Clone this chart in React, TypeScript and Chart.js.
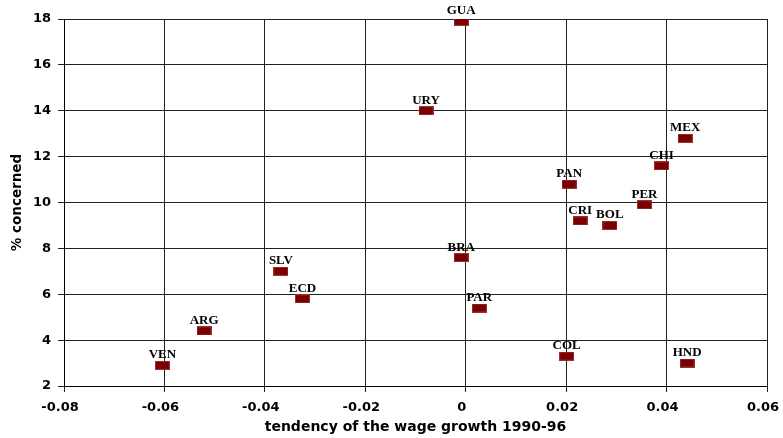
import React, { useEffect, useRef } from "react";
import { Chart, registerables } from "chart.js";

Chart.register(...registerables);

const countries = ["GUA", "URY", "MEX", "CHI", "PAN", "PER", "CRI", "BOL", "BRA", "PAR", "COL", "HND", "SLV", "ECD", "ARG", "VEN"];
const wageGrowth = [-0.0009, -0.0079, 0.0437, 0.039, 0.0206, 0.0356, 0.0228, 0.0287, -0.0009, 0.0027, 0.0201, 0.0441, -0.0368, -0.0325, -0.0521, -0.0604];
const concerned = [17.9, 14.0, 12.8, 11.6, 10.8, 9.9, 9.2, 9.0, 7.6, 5.4, 3.3, 3.0, 7.0, 5.8, 4.4, 2.9];

const xTicks = [-0.08, -0.06, -0.04, -0.02, 0, 0.02, 0.04, 0.06];
const yTicks = [2, 4, 6, 8, 10, 12, 14, 16, 18];

function makeMarker(): HTMLCanvasElement {
  const c = document.createElement("canvas");
  c.width = 15;
  c.height = 9;
  const ctx = c.getContext("2d")!;
  ctx.fillStyle = "#9a3030";
  ctx.fillRect(0, 0, 15, 9);
  ctx.fillStyle = "#7a0000";
  ctx.fillRect(1, 1, 13, 7);
  return c;
}

const labelPlugin = {
  id: "pointLabels",
  afterDatasetsDraw(chart: any) {
    const meta = chart.getDatasetMeta(0);
    const ctx = chart.ctx;
    ctx.save();
    ctx.font = "bold 13px 'Liberation Serif', 'Times New Roman', serif";
    ctx.fillStyle = "#000";
    ctx.textAlign = "center";
    ctx.textBaseline = "alphabetic";
    meta.data.forEach((pt: any, i: number) => {
      ctx.fillText(countries[i], pt.x, pt.y - 7);
    });
    ctx.restore();
  },
};

export default function App() {
  const ref = useRef<HTMLCanvasElement | null>(null);
  useEffect(() => {
    if (!ref.current) return;
    const marker = makeMarker();
    const chart = new Chart(ref.current, {
      type: "scatter",
      data: {
        datasets: [
          {
            data: wageGrowth.map((x, i) => ({ x, y: concerned[i] })),
            pointStyle: marker as any,
            pointRadius: 7,
            backgroundColor: "#7a0000",
            borderColor: "#7a0000",
          },
        ],
      },
      options: {
        animation: false,
        responsive: true,
        maintainAspectRatio: false,
        layout: { padding: { top: 19, right: 16, left: 0, bottom: 0 } },
        plugins: { legend: { display: false }, tooltip: { enabled: false } },
        scales: {
          x: {
            type: "linear",
            min: -0.08,
            max: 0.06,
            afterBuildTicks: (s: any) => {
              s.ticks = xTicks.map((v) => ({ value: v }));
            },
            afterFit: (s: any) => {
              s.height = 52;
              s.paddingLeft = 0;
              s.paddingRight = 0;
            },
            grid: { color: "#222", lineWidth: 1, tickLength: 6, tickColor: "#222" },
            border: { color: "#000", width: 1 },
            ticks: {
              color: "#000",
              padding: 8,
              labelOffset: -4,
              maxRotation: 0,
              font: { family: "'DejaVu Sans', sans-serif", size: 13, weight: "bold" },
              callback: (v: any) => String(Math.round(Number(v) * 100) / 100),
            },
            title: {
              display: true,
              text: "tendency of the wage growth 1990-96",
              color: "#000",
              font: { family: "'DejaVu Sans', sans-serif", size: 14, weight: "bold" },
              padding: { top: 0, bottom: 2 },
            },
          },
          y: {
            type: "linear",
            min: 2,
            max: 18,
            afterBuildTicks: (s: any) => {
              s.ticks = yTicks.map((v) => ({ value: v }));
            },
            afterFit: (s: any) => {
              s.width = 64;
              s.paddingTop = 0;
              s.paddingBottom = 0;
            },
            grid: { color: "#222", lineWidth: 1, tickLength: 6, tickColor: "#222" },
            border: { color: "#000", width: 1 },
            ticks: {
              color: "#000",
              padding: 7,
              font: { family: "'DejaVu Sans', sans-serif", size: 13, weight: "bold" },
            },
            title: {
              display: true,
              text: "% concerned",
              color: "#000",
              font: { family: "'DejaVu Sans', sans-serif", size: 13.5, weight: "bold" },
              padding: { top: 9, bottom: 0 },
            },
          },
        },
      },
      plugins: [labelPlugin],
    });
    return () => chart.destroy();
  }, []);
  return (
    <div style={{ position: "fixed", left: 0, top: 0, width: 783, height: 438, background: "#fff" }}>
      <canvas ref={ref} />
    </div>
  );
}
